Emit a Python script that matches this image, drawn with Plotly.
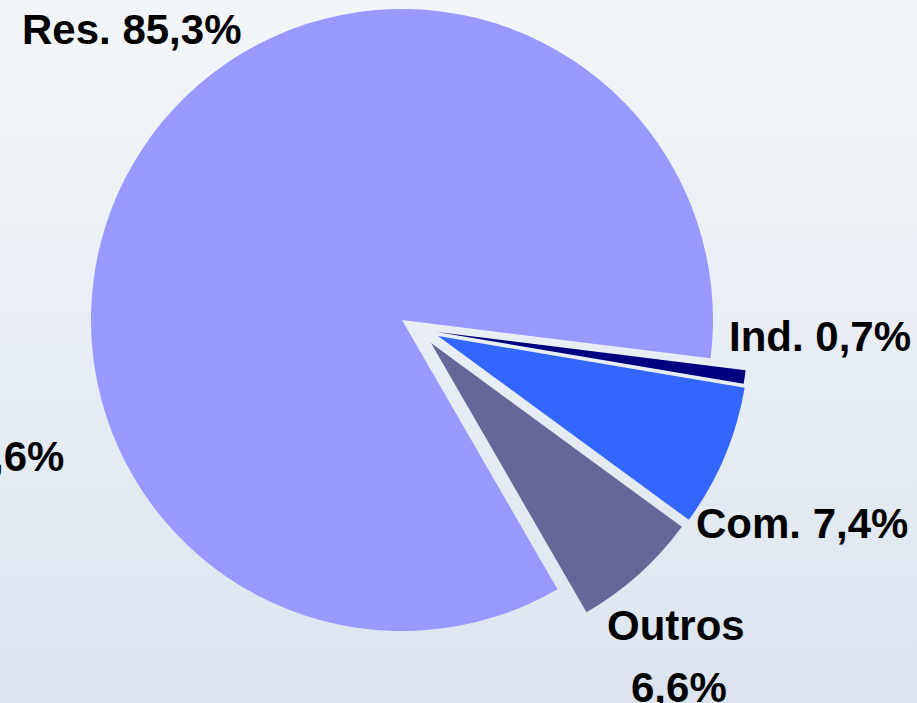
import plotly.graph_objects as go

# ---- data ----
categories = ["Res.", "Ind.", "Com.", "Outros"]
shares = [85.3, 0.7, 7.4, 6.6]
colors = ["#9999FF", "#000080", "#3366FF", "#666699"]
stray_label = ",6%"

# ---- layout constants (pixels) ----
W, H = 917, 703
R = 311
CX, CY = 402, 320
# explode offsets per slice (px)
offsets = [(0, 0), (35, 12), (36, 16), (29, 23)]
ROTATION = 150

FONT = "Liberation Sans, Arial, sans-serif"
FSIZE = 42


def fmt(v):
    return f"{v:.1f}".replace(".", ",")


fig = go.Figure()

# background gradient
fig.add_trace(go.Scatter(
    x=[0, 1, 1, 0, 0], y=[0, 0, 1, 1, 0], mode="lines", fill="toself",
    line=dict(width=0), hoverinfo="skip", showlegend=False,
    fillgradient=dict(type="vertical",
                      colorscale=[[0, "#DCE5EF"], [1, "#F3F6F9"]]),
))

for i, (dx, dy) in enumerate(offsets):
    cx, cy = CX + dx, CY + dy
    slice_colors = ["rgba(0,0,0,0)"] * len(categories)
    slice_colors[i] = colors[i]
    fig.add_trace(go.Pie(
        labels=categories, values=shares, sort=False, direction="clockwise",
        rotation=ROTATION, textinfo="none", hoverinfo="label+percent",
        marker=dict(colors=slice_colors, line=dict(width=0)),
        showlegend=False,
        domain=dict(x=[(cx - R) / W, (cx + R) / W],
                    y=[1 - (cy + R) / H, 1 - (cy - R) / H]),
    ))

# label positions (px): (x, y, xanchor)
label_pos = {
    "Res.": (131, 30, "center"),
    "Ind.": (820, 336, "center"),
    "Com.": (802, 523, "center"),
}
annotations = []
for name, v in zip(categories, shares):
    if name in label_pos:
        x, y, xa = label_pos[name]
        annotations.append(dict(text=f"<b>{name} {fmt(v)}%</b>", x=x / W, y=1 - y / H,
                                xref="paper", yref="paper", xanchor=xa, yanchor="middle",
                                showarrow=False))
    elif name == "Outros":
        annotations.append(dict(text=f"<b>{name}</b>", x=676 / W, y=1 - 625 / H,
                                xref="paper", yref="paper", xanchor="center", yanchor="middle",
                                showarrow=False))
        annotations.append(dict(text=f"<b>{fmt(v)}%</b>", x=679 / W, y=1 - 687 / H,
                                xref="paper", yref="paper", xanchor="center", yanchor="middle",
                                showarrow=False))
annotations.append(dict(text=f"<b>{stray_label}</b>", x=66 / W, y=1 - 456 / H,
                        xref="paper", yref="paper", xanchor="right", yanchor="middle",
                        showarrow=False))

fig.update_layout(
    width=W, height=H,
    margin=dict(l=0, r=0, t=0, b=0),
    paper_bgcolor="#E8EEF5", plot_bgcolor="rgba(0,0,0,0)",
    xaxis=dict(visible=False, range=[0, 1], domain=[0, 1], fixedrange=True),
    yaxis=dict(visible=False, range=[0, 1], domain=[0, 1], fixedrange=True),
    font=dict(family=FONT, size=FSIZE, color="#000000"),
    annotations=annotations,
    showlegend=False,
)

fig.write_html(
    "out.html",
    config={"displayModeBar": False},
    post_script="document.body.style.margin='0';document.body.style.overflow='hidden';",
)
